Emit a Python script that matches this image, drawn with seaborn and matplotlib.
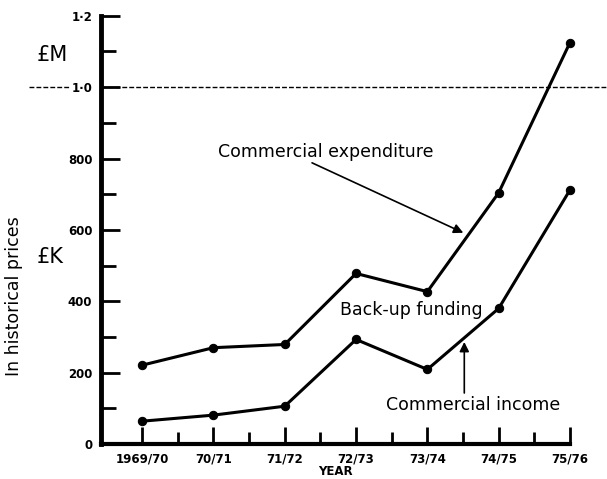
import pandas as pd
import numpy as np
import matplotlib
matplotlib.use("Agg")
import matplotlib.pyplot as plt
import seaborn as sns
from matplotlib.ticker import MultipleLocator, FixedLocator, FixedFormatter

years = ['1969/70', '70/71', '71/72', '72/73', '73/74', '74/75', '75/76']
expenditure = [221, 270, 279, 478, 427, 704, 1125]
income = [64, 81, 106, 293, 209, 380, 712]
y_ticks = [0, 200, 400, 600, 800, 1000, 1200]
y_labels = ['0', '200', '400', '600', '800', '1\u00b70', '1\u00b72']

df = pd.DataFrame({'idx': np.arange(len(years)), 'year': years,
                   'Commercial expenditure': expenditure,
                   'Commercial income': income})
long_df = df.melt(id_vars=['idx', 'year'], var_name='series', value_name='value')

sns.set_style('white')
plt.rcParams['font.family'] = ['DejaVu Sans']
plt.rcParams['text.color'] = 'black'
plt.rcParams['axes.labelcolor'] = 'black'
plt.rcParams['xtick.color'] = 'black'
plt.rcParams['ytick.color'] = 'black'

fig = plt.figure(figsize=(6.07, 4.79), dpi=100)
ax = fig.add_axes([0.166, 0.073, 0.773, 0.894])

sns.lineplot(data=long_df, x='idx', y='value', units='series', estimator=None,
             color='black', linewidth=2.2, marker='o', markersize=6,
             markeredgecolor='black', ax=ax, legend=False)
for ln in ax.lines:
    ln.set_clip_on(False)

ax.set_xlim(-0.58, 6)
ax.set_ylim(0, 1200)

# y axis ticks
ax.yaxis.set_major_locator(FixedLocator(y_ticks))
ax.yaxis.set_major_formatter(FixedFormatter(y_labels))
ax.yaxis.set_minor_locator(MultipleLocator(100))
# x axis ticks
ax.xaxis.set_major_locator(FixedLocator(df['idx']))
ax.xaxis.set_major_formatter(FixedFormatter(years))
ax.xaxis.set_minor_locator(FixedLocator(df['idx'][:-1] + 0.5))

ax.tick_params(axis='both', which='both', direction='in', bottom=True, left=True,
               width=2, color='black', labelcolor='black')
ax.tick_params(axis='y', which='major', length=14, labelsize=8.5, pad=6)
ax.tick_params(axis='y', which='minor', length=10.5)
ax.tick_params(axis='x', which='major', length=12, labelsize=8.5, pad=6)
ax.tick_params(axis='x', which='minor', length=9)
for lab in ax.get_xticklabels() + ax.get_yticklabels():
    lab.set_fontweight('bold')

for side in ['top', 'right']:
    ax.spines[side].set_visible(False)
ax.spines['left'].set_linewidth(3.5)
ax.spines['bottom'].set_linewidth(3)
ax.spines['left'].set_color('black')
ax.spines['bottom'].set_color('black')

ax.set_xlabel('YEAR', fontsize=8.5, fontweight='bold', labelpad=0)
ax.set_ylabel('')

# dashed £1M reference line, broken around the 1·0 label
dash = dict(color='black', linestyle=(0, (3.5, 1.5)), linewidth=1, clip_on=False)
ax.plot([-1.58, -1.02], [1000, 1000], **dash)
ax.plot([-0.58, 6.53], [1000, 1000], **dash)

fig.text(0.061, 0.885, '\u00a3M', fontsize=15, va='center', ha='left')
fig.text(0.061, 0.463, '\u00a3K', fontsize=15, va='center', ha='left')
fig.text(0.023, 0.382, 'In historical prices', fontsize=12.5, rotation=90,
         va='center', ha='center')

ax.text(1.063, 819, 'Commercial expenditure', fontsize=12.5, va='center', ha='left')
ax.annotate('', xy=(4.504, 592), xytext=(2.383, 788),
            arrowprops=dict(arrowstyle='-|>', color='black', lw=1.2,
                            shrinkA=0, shrinkB=0, mutation_scale=14))
ax.text(2.777, 376, 'Back-up funding', fontsize=12.5, va='center', ha='left')
ax.text(4.645, 109, 'Commercial income', fontsize=12.5, va='center', ha='center')
ax.annotate('', xy=(4.518, 286), xytext=(4.518, 143),
            arrowprops=dict(arrowstyle='-|>', color='black', lw=1.2,
                            shrinkA=0, shrinkB=0, mutation_scale=14))

fig.savefig('out.png', dpi=100)
